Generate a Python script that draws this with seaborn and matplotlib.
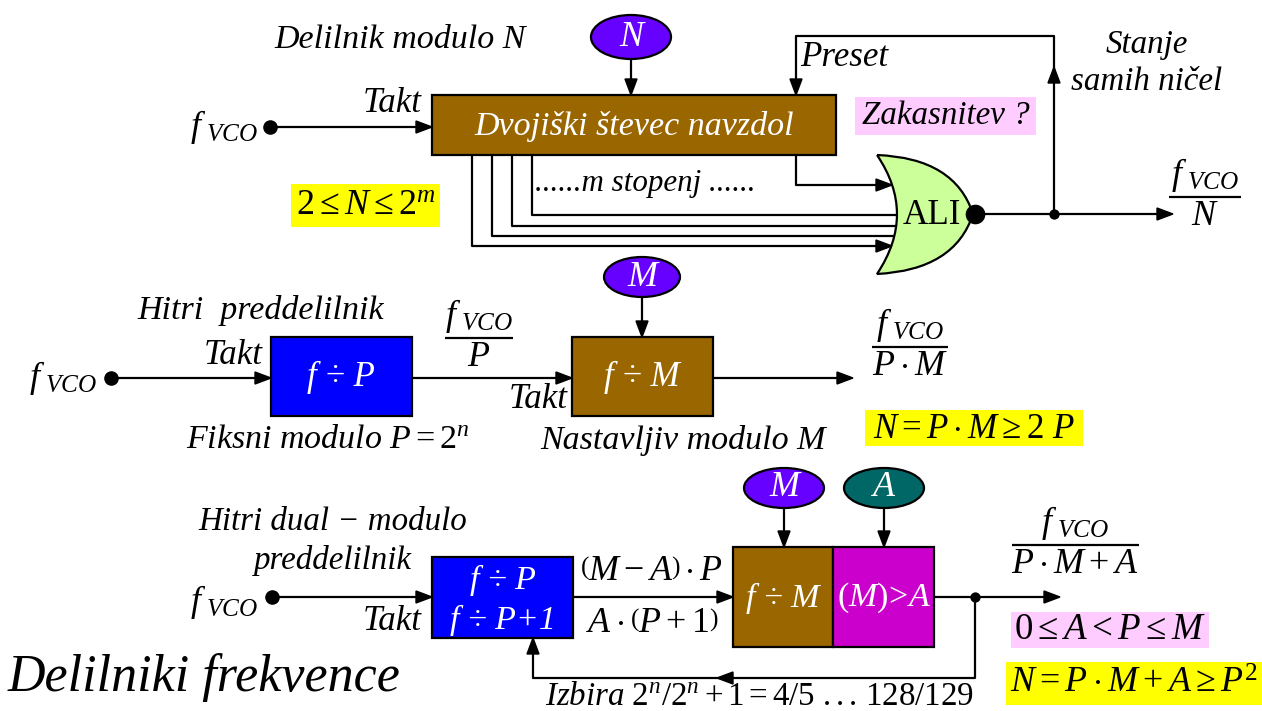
import matplotlib
matplotlib.use("Agg")
import matplotlib.pyplot as plt
from matplotlib.patches import Rectangle, Ellipse, PathPatch, Polygon
from matplotlib.path import Path
import seaborn as sns

# ---------------- content (texts) ----------------
title = "Delilniki frekvence"
top_labels = ["Delilnik modulo N", "Dvojiški števec navzdol", "Preset", "Stanje", "samih ničel",
              "Zakasnitev ?", "......m stopenj ......", "ALI"]
mid_labels = ["Hitri  preddelilnik", "Fiksni modulo", "Nastavljiv modulo M"]
bot_labels = ["Hitri dual − modulo", "preddelilnik"]
fvco = r"$f_{\ VCO}$"
box_texts_mid = ["f ÷ P", "f ÷ M"]
box_texts_bot = ["f ÷ P", "f ÷ P+1", "f ÷ M", "(M)>A"]
ellipse_texts = ["N", "M", "M", "A"]

# connection dots
input_dot_x = [270, 111, 272]
input_dot_y = [127, 378, 597]
junction_x = [1054, 975]
junction_y = [214, 597]
bubble_x = [975]
bubble_y = [214]

BROWN = "#996600"
BLUE = "#0000FF"
VIOLET = "#6600FF"
TEAL = "#006666"
MAGENTA = "#CC00CC"
LGREEN = "#CCFF99"
PINK = "#FFCCFF"
YELLOW = "#FFFF00"

sns.set_theme(style="white")
plt.rcParams["mathtext.fontset"] = "custom"
plt.rcParams["mathtext.rm"] = "Liberation Serif"
plt.rcParams["mathtext.it"] = "Liberation Serif:italic"
plt.rcParams["mathtext.bf"] = "Liberation Serif:bold"
plt.rcParams["font.family"] = ["Liberation Serif", "DejaVu Serif"]

fig = plt.figure(figsize=(12.62, 7.11), dpi=100)
ax = fig.add_axes([0, 0, 1, 1])
LW = 1.6


def T(x, y, s, px=30, ha="center", va="center", color="black", style="italic", z=6, **kw):
    ax.text(x, y, s, fontsize=px * 0.72, ha=ha, va=va, color=color,
            style=style, zorder=z, **kw)


def line(xs, ys, z=2):
    ax.plot(xs, ys, color="black", lw=LW, zorder=z, solid_capstyle="butt")


def head(x, y, d, L=16, w=6):
    if d == "r":
        pts = [(x, y), (x - L, y - w), (x - L, y + w)]
    elif d == "l":
        pts = [(x, y), (x + L, y - w), (x + L, y + w)]
    elif d == "d":
        pts = [(x, y), (x - w, y - L), (x + w, y - L)]
    else:
        pts = [(x, y), (x - w, y + L), (x + w, y + L)]
    ax.add_patch(Polygon(pts, closed=True, color="black", zorder=7))


def box(x0, y0, x1, y1, color, lw=LW, edge="black", z=3):
    ax.add_patch(Rectangle((x0, y0), x1 - x0, y1 - y0, facecolor=color,
                           edgecolor=edge, lw=lw, zorder=z))


def ell(xc, yc, w, h, color, s):
    ax.add_patch(Ellipse((xc, yc), w, h, facecolor=color, edgecolor="black", lw=LW, zorder=3))
    T(xc, yc, s, 36, color="white")


def frac(xc, ybar, w, num, den, px=36):
    line([xc - w / 2, xc + w / 2], [ybar, ybar])
    T(xc, ybar - 3, num, px, va="bottom")
    T(xc, ybar + 3, den, px, va="top")


# ================= TOP: Delilnik modulo N =================
T(400, 40, top_labels[0], 34)
ell(631, 37, 80, 44, VIOLET, ellipse_texts[0])
line([631, 631], [59, 90]); head(631, 95, "d")
box(432, 95, 836, 155, BROWN)
T(634, 126, top_labels[1], 34, color="white")
T(258, 127, fvco, 36, ha="right")
line([276, 420], [127, 127]); head(432, 127, "r")
T(422, 104, "Takt", 35, ha="right")
# preset loop
line([1054, 1054, 796, 796], [214, 36, 36, 90])
head(796, 95, "d")
head(1054, 67, "u")
T(800, 58, top_labels[2], 35, ha="left")
T(1147, 45, top_labels[3], 33)
T(1147, 82, top_labels[4], 33)
box(855, 97, 1036, 135, PINK, lw=0, edge="none")
T(946, 116, top_labels[5], 33)
# m stages
line([472, 472, 880], [155, 246, 246]); head(892, 246, "r")
line([492, 492, 900], [155, 236, 236])
line([512, 512, 900], [155, 226, 226])
line([532, 532, 900], [155, 215, 215])
line([796, 796, 880], [155, 185, 185]); head(892, 185, "r")
T(645, 183, top_labels[6], 31)
box(291, 184, 440, 227, YELLOW, lw=0, edge="none")
T(366, 205, r"$2\leq N\leq 2^m$", 36)
# OR gate
verts = [(877, 155), (955, 158), (973, 214), (955, 270), (877, 274), (917, 214), (877, 155)]
codes = [Path.MOVETO, Path.CURVE3, Path.CURVE3, Path.CURVE3, Path.CURVE3, Path.CURVE3, Path.CURVE3]
ax.add_patch(PathPatch(Path(verts, codes), facecolor=LGREEN, edgecolor="black", lw=LW, zorder=4))
T(932, 216, top_labels[7], 35, style="normal")
line([984, 1160], [214, 214]); head(1173, 214, "r")
frac(1205, 197, 72, fvco, r"$N$")

# ================= MIDDLE =================
T(261, 310, mid_labels[0], 34)
T(97, 378, fvco, 36, ha="right")
line([116, 260], [378, 378]); head(271, 378, "r")
T(263, 355, "Takt", 35, ha="right")
box(271, 337, 412, 416, BLUE)
T(341, 377, box_texts_mid[0], 35, color="white")
T(328, 440, r"$Fiksni\ modulo\ P=2^n$", 34)
line([412, 560], [378, 378]); head(572, 378, "r")
frac(479, 338, 68, fvco, r"$P$")
T(568, 400, "Takt", 35, ha="right")
ell(642, 277, 76, 40, VIOLET, ellipse_texts[1])
line([642, 642], [297, 332]); head(642, 337, "d")
box(572, 337, 713, 416, BROWN)
T(642, 377, box_texts_mid[1], 35, color="white")
T(683, 440, mid_labels[2], 34)
line([713, 840], [378, 378]); head(853, 378, "r")
frac(910, 347, 76, fvco, r"$P\cdot M$")
box(865, 410, 1083, 446, YELLOW, lw=0, edge="none")
T(974, 430, r"$N=P\cdot M\geq 2\ P$", 35)

# ================= BOTTOM =================
T(333, 522, bot_labels[0], 33)
T(333, 560, bot_labels[1], 33)
T(258, 602, fvco, 36, ha="right")
line([277, 420], [597, 597]); head(432, 597, "r")
T(422, 622, "Takt", 35, ha="right")
box(432, 557, 573, 638, BLUE)
T(503, 580, box_texts_bot[0], 34, color="white")
T(503, 620, box_texts_bot[1], 34, color="white")
line([573, 720], [597, 597]); head(733, 597, "r")
T(652, 572, r"$\left(M-A\right)\cdot P$", 36)
T(652, 623, r"$A\cdot\left(P+1\right)$", 36)
ell(784, 488, 80, 40, VIOLET, ellipse_texts[2])
ell(884, 488, 80, 40, TEAL, ellipse_texts[3])
line([784, 784], [508, 541]); head(784, 547, "d")
line([884, 884], [508, 541]); head(884, 547, "d")
box(733, 547, 833, 647, BROWN)
box(833, 547, 934, 647, MAGENTA)
T(783, 598, box_texts_bot[2], 34, color="white")
T(884, 598, r"$\mathrm{(}M\mathrm{)}\!>\!A$", 34, color="white")
line([934, 1048], [597, 597]); head(1060, 597, "r")
line([975, 975, 533, 533], [597, 678, 678, 650])
head(533, 638, "u")
head(717, 678, "l")
frac(1075, 545, 127, fvco, r"$P\cdot M+A$")
box(1011, 612, 1209, 648, PINK, lw=0, edge="none")
T(1110, 630, r"$0\leq A<P\leq M$", 37)
box(1006, 662, 1262, 705, YELLOW, lw=0, edge="none")
T(1134, 684, r"$N=P\cdot M+A\geq P^2$", 36)
T(760, 697, r"$Izbira\ 2^n/2^n+1=4/5\ ...\,128/129$", 33)

T(8, 678, title, 52, ha="left")

# connection dots
sns.scatterplot(x=input_dot_x, y=input_dot_y, s=110, color="black", ax=ax,
                legend=False, zorder=8, linewidth=0)
sns.scatterplot(x=junction_x, y=junction_y, s=55, color="black", ax=ax,
                legend=False, zorder=8, linewidth=0)
sns.scatterplot(x=bubble_x, y=bubble_y, s=200, color="black", ax=ax,
                legend=False, zorder=8, linewidth=0)

ax.set_xlim(0, 1262)
ax.set_ylim(711, 0)
ax.axis("off")
fig.savefig("out.png", dpi=100, facecolor="white")
